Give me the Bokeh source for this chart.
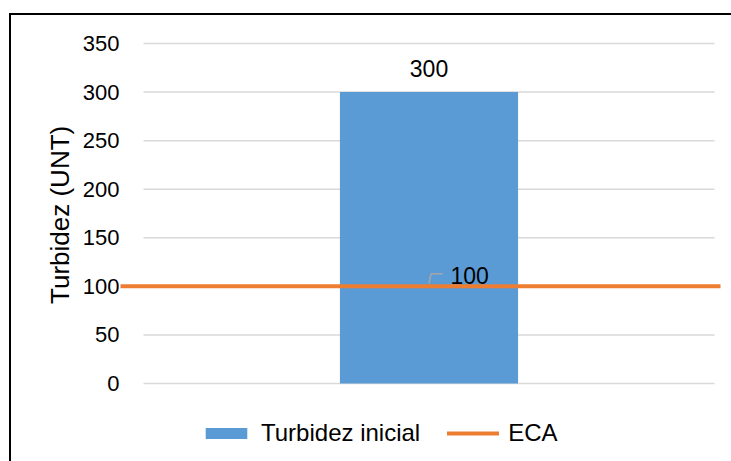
from bokeh.plotting import figure
from bokeh.models import Range1d, FixedTicker, Legend, LegendItem, ColumnDataSource
from bokeh.core.properties import value
from bokeh.embed import file_html
from bokeh.resources import INLINE

# Data
categories = ["Turbidez inicial"]
turbidez = [300]
eca = [100]
y_ticks = [0, 50, 100, 150, 200, 250, 300, 350]

FONT = "Liberation Sans"
BLUE = "#5b9bd5"
ORANGE = "#ed7d31"
GRID = "#d9d9d9"

# plot area spans 0..1 horizontally; the ECA line runs a little beyond it
x_lo, x_hi = -23 / 571, 1 + 6 / 571
# vertical scale: 350 units over 340 px; frame reaches down to hold the legend
PX = 340 / 350
y_lo, y_hi = -78 / PX, 343 / PX

p = figure(width=731, height=461, output_backend="svg", toolbar_location=None,
           x_range=Range1d(x_lo, x_hi), y_range=Range1d(y_lo, y_hi),
           min_border_left=120, min_border_right=11,
           min_border_top=40, min_border_bottom=0)
p.outline_line_color = None
p.background_fill_color = "white"
p.border_fill_alpha = 0
# chart border (left and top edges) painted behind the canvas
p.styles = {"background": "linear-gradient(#000,#000) 9px 13px / 2px 100% no-repeat, "
                          "linear-gradient(#000,#000) 9px 13px / 100% 2px no-repeat, #ffffff"}
p.xgrid.visible = False
p.ygrid.visible = False
p.xaxis.visible = False

ax = p.yaxis[0]
ax.ticker = FixedTicker(ticks=y_ticks)
ax.axis_line_color = None
ax.major_tick_line_color = None
ax.minor_tick_line_color = None
ax.major_tick_out = 0
ax.major_tick_in = 0
ax.major_label_standoff = 1
ax.major_label_text_font = FONT
ax.major_label_text_font_size = "22px"
ax.major_label_text_color = "#000000"
# leading no-break spaces lift the title to the middle of the 0..350 span
ax.axis_label = "\u00a0" * 10 + "Turbidez (UNT)"
ax.axis_label_text_font = FONT
ax.axis_label_text_font_size = "26px"
ax.axis_label_text_font_style = "normal"
ax.axis_label_text_color = "#000000"
ax.axis_label_standoff = 5

# horizontal gridlines inside the plot area
p.segment(x0=[0] * len(y_ticks), x1=[1] * len(y_ticks), y0=y_ticks, y1=y_ticks,
          line_color=GRID, line_width=1.5)

# bar
src = ColumnDataSource(dict(x=[0.5], top=turbidez, lab=[str(v) for v in turbidez]))
bar = p.vbar(x="x", top="top", bottom=0, width=0.312, source=src,
             fill_color=BLUE, line_color=None)
p.text(x="x", y="top", text="lab", source=src, text_align="center",
       text_baseline="middle", y_offset=-24, text_font_size="23px",
       text_color="#000000", text_font=value(FONT))

# ECA reference line
eca_line = p.line(x=[x_lo, x_hi], y=[eca[0], eca[0]], line_color=ORANGE,
                  line_width=4, line_cap="round")
# leader line and label for the ECA value
p.line(x=[0.5, 0.5 + 0.0035, 0.5 + 0.024],
       y=[eca[0] + 3, eca[0] + 13, eca[0] + 13],
       line_color="#a6a6a6", line_width=1.5)
p.text(x=[0.5377], y=eca, text=[str(eca[0])], text_align="left",
       text_baseline="middle", y_offset=-11, text_font_size="23px",
       text_color="#000000", text_font=value(FONT))

legend = Legend(items=[LegendItem(label="Turbidez inicial", renderers=[bar]),
                       LegendItem(label="ECA", renderers=[eca_line])],
                orientation="horizontal", location=(80, 14),
                glyph_width=52, glyph_height=14, label_standoff=9, spacing=27,
                padding=0, margin=0, border_line_color=None,
                background_fill_alpha=0, label_text_font=FONT,
                label_text_font_size="24px", label_text_color="#000000")
p.add_layout(legend)

open("out.html", "w").write(file_html(p, INLINE))
